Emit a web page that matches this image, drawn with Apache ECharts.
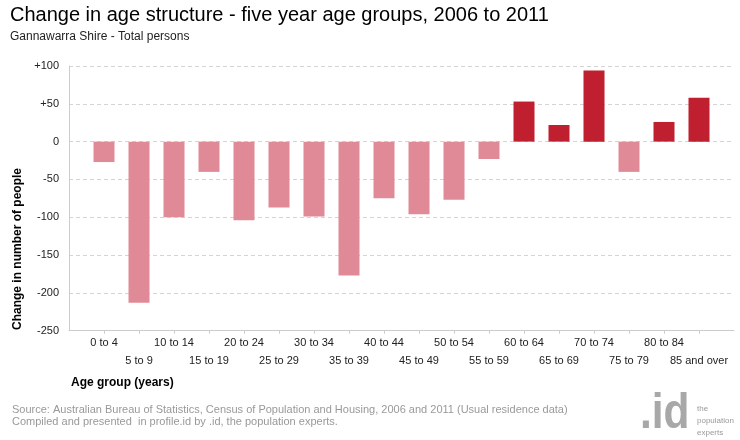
<!DOCTYPE html>
<html>
<head>
<meta charset="utf-8">
<script src="https://cdn.jsdelivr.net/npm/echarts@6/dist/echarts.min.js"></script>
<style>
html,body{margin:0;padding:0;background:#fff;}
#chart{width:740px;height:440px;}
</style>
</head>
<body>
<div id="chart"></div>
<script>
var categories = ['0 to 4','5 to 9','10 to 14','15 to 19','20 to 24','25 to 29','30 to 34','35 to 39','40 to 44','45 to 49','50 to 54','55 to 59','60 to 64','65 to 69','70 to 74','75 to 79','80 to 84','85 and over'];
var changeValues = [-27,-213,-100,-40,-104,-87,-99,-177,-75,-96,-77,-23,53,22,94,-40,26,58];
var yMin = -250, yMax = 100, yStep = 50;

var FONT = '"Liberation Sans", Arial, sans-serif';
var chart = echarts.init(document.getElementById('chart'), null, {renderer:'canvas'});
var gridTop = 66, gridHeight = 264.7;
var tickIdx = categories.map(function(c, i){ return i; });

chart.setOption({
  animation: false,
  backgroundColor: '#fff',
  textStyle: {fontFamily: FONT},
  title: [
    {text: 'Change in age structure - five year age groups, 2006 to 2011', left: 10, top: 5, padding: 0,
     textStyle: {fontFamily: FONT, fontSize: 20, fontWeight: 'normal', color: '#000'}},
    {text: 'Gannawarra Shire - Total persons', left: 10, top: 31, padding: 0,
     textStyle: {fontFamily: FONT, fontSize: 12, fontWeight: 'normal', color: '#222'}}
  ],
  grid: [
    {left: 86.5, width: 630, top: gridTop, height: gridHeight, containLabel: false},
    {left: 69, width: 665, top: gridTop, height: gridHeight, containLabel: false}
  ],
  xAxis: [
    {type: 'category', gridIndex: 0, data: categories, boundaryGap: true, position: 'bottom',
     axisLine: {show: false, onZero: false},
     axisTick: {show: false},
     axisLabel: {interval: 0, margin: 3, fontFamily: FONT, fontSize: 11, color: '#222', lineHeight: 18,
       formatter: function(v, i){ return (i % 2 === 1) ? '\n' + v : v; }}},
    {type: 'value', gridIndex: 1, min: -1, max: 18, interval: 1, show: true, position: 'bottom',
     axisLine: {show: true, onZero: false, lineStyle: {color: '#ccc', width: 1}},
     axisTick: {show: true, length: 3, customValues: tickIdx, lineStyle: {color: '#ccc'}},
     axisLabel: {show: false}, splitLine: {show: false}}
  ],
  yAxis: [
    {type: 'value', gridIndex: 0, min: yMin, max: yMax, interval: yStep, show: false, splitLine: {show: false}},
    {type: 'value', gridIndex: 1, min: yMin, max: yMax, interval: yStep,
     axisLine: {show: true, onZero: false, lineStyle: {color: '#ccc'}},
     axisTick: {show: false},
     axisLabel: {margin: 10, fontFamily: FONT, fontSize: 11, color: '#222',
       formatter: function(v){ return v > 0 ? '+' + v : String(v); }},
     splitLine: {show: true, lineStyle: {color: '#d4d4d4', type: [4, 3], width: 1}}}
  ],
  series: [{
    type: 'bar', xAxisIndex: 0, yAxisIndex: 0, barWidth: 21,
    data: changeValues,
    itemStyle: {color: function(p){ return p.value < 0 ? '#E08A97' : '#C01F2F'; }}
  }],
  graphic: [
    {type: 'text', x: 18, y: 249, rotation: Math.PI/2,
     style: {text: 'Change in number of people', fontFamily: FONT, fontSize: 12, fontWeight: 'bold', fill: '#000',
       align: 'center', verticalAlign: 'middle'}},
    {type: 'text', x: 71, y: 383,
     style: {text: 'Age group (years)', fontFamily: FONT, fontSize: 12, fontWeight: 'bold', fill: '#000',
       align: 'left', verticalAlign: 'middle'}},
    {type: 'text', x: 12, y: 410,
     style: {text: 'Source: Australian Bureau of Statistics, Census of Population and Housing, 2006 and 2011 (Usual residence data)', fontFamily: FONT, fontSize: 11, fill: '#999',
       align: 'left', verticalAlign: 'middle'}},
    {type: 'text', x: 12, y: 422,
     style: {text: 'Compiled and presented  in profile.id by .id, the population experts.', fontFamily: FONT, fontSize: 11, fill: '#999',
       align: 'left', verticalAlign: 'middle'}},
    {type: 'text', x: 640, y: 439, scaleX: 0.85, scaleY: 1,
     style: {text: '.id', fontFamily: FONT, fontSize: 50, fontWeight: 'bold', fill: '#a8a8a8',
       align: 'left', verticalAlign: 'bottom'}},
    {type: 'text', x: 697, y: 409,
     style: {text: 'the', fontFamily: FONT, fontSize: 8, fill: '#999', align: 'left', verticalAlign: 'middle'}},
    {type: 'text', x: 697, y: 421,
     style: {text: 'population', fontFamily: FONT, fontSize: 8, fill: '#999', align: 'left', verticalAlign: 'middle'}},
    {type: 'text', x: 697, y: 433,
     style: {text: 'experts', fontFamily: FONT, fontSize: 8, fill: '#999', align: 'left', verticalAlign: 'middle'}}
  ]
});
</script>
</body>
</html>
